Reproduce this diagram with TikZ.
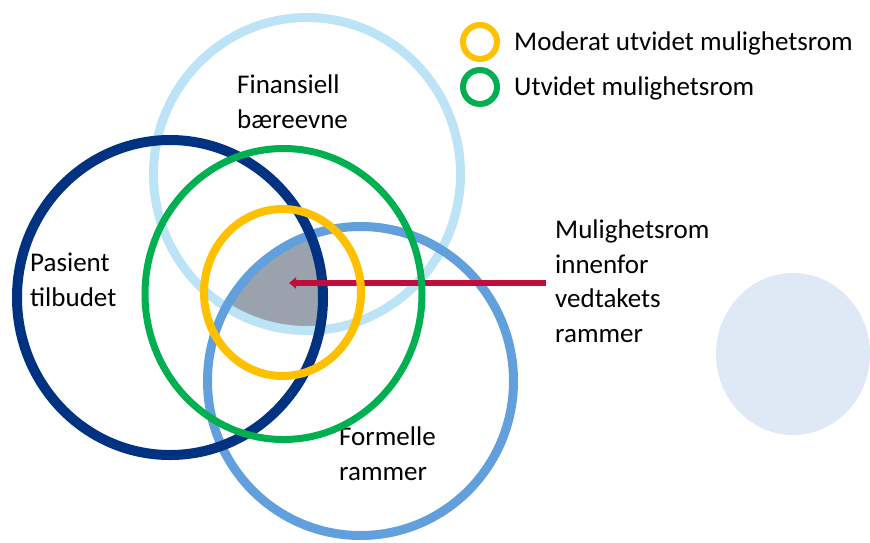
\documentclass[tikz,border=0pt]{standalone}
\usepackage{fontspec}
\setmainfont{Carlito}
\usepackage{xcolor}
\usepackage{tikz}
\usetikzlibrary{arrows.meta}

\definecolor{finblue}{RGB}{189,227,246}
\definecolor{pasblue}{RGB}{0,50,130}
\definecolor{formblue}{RGB}{98,160,221}
\definecolor{utvgreen}{RGB}{0,176,80}
\definecolor{modyellow}{RGB}{255,192,0}
\definecolor{paleblue}{RGB}{223,233,246}
\definecolor{arrowred}{RGB}{192,14,60}
\definecolor{romgray}{RGB}{154,163,173}

\begin{document}
\begin{tikzpicture}[x=1pt,y=-1pt]
        \tikzset{ring style/.style={line width=9pt}}
        \tikzset{label style/.style={anchor=base west, align=left, inner sep=0pt, font=\fontsize{27}{34.5}\selectfont}}
        \tikzset{key style/.style={draw, circle, line width=6pt, minimum size=34pt, inner sep=0pt}}

        \useasboundingbox (0,0) rectangle (870,542);

        \fill[paleblue] (793,354) ellipse[x radius=77pt, y radius=81pt];

        \begin{scope}
            \clip (307,174) ellipse[x radius=153.5pt, y radius=156.5pt];
            \clip (170,297.5) ellipse[x radius=153pt, y radius=157.5pt];
            \fill[romgray] (360.5,381) ellipse[x radius=153pt, y radius=154.5pt];
        \end{scope}

        \draw[ring style, finblue] (307,174) ellipse[x radius=153.5pt, y radius=156.5pt];
        \draw[ring style, formblue] (360.5,381) ellipse[x radius=153pt, y radius=154.5pt];
        \draw[ring style, pasblue, line width=10pt] (170,297.5) ellipse[x radius=153pt, y radius=157.5pt];

        \node[label style] (fin) at (237,128) {Finansiell\\bæreevne};
        \node[label style] (pas) at (30,306) {Pasient\\tilbudet};
        \node[label style] (form) at (339,480) {Formelle\\rammer};
        \node[label style] (mul) at (555,342) {Mulighetsrom\\innenfor\\vedtakets\\rammer};

        \coordinate (tip) at (289,283);
        \draw[line width=5.5pt, arrowred, -{Triangle[length=7pt, width=11pt]}] ([xshift=-9pt]mul.west |- tip) -- (tip);

        \draw[line width=7pt, utvgreen] (283.5,294) ellipse[x radius=138.5pt, y radius=145.5pt];
        \draw[line width=8pt, modyellow] (282.5,292.5) ellipse[x radius=78.5pt, y radius=83.5pt];

        \node[key style, draw=modyellow] (modkey) at (480,42) {};
        \node[key style, draw=utvgreen] (utvkey) at (480,87) {};
        \node[label style] (modtext) at (514,50) {Moderat utvidet mulighetsrom};
        \node[label style] (utvtext) at (514,95) {Utvidet mulighetsrom};
    \end{tikzpicture}
\end{document}
